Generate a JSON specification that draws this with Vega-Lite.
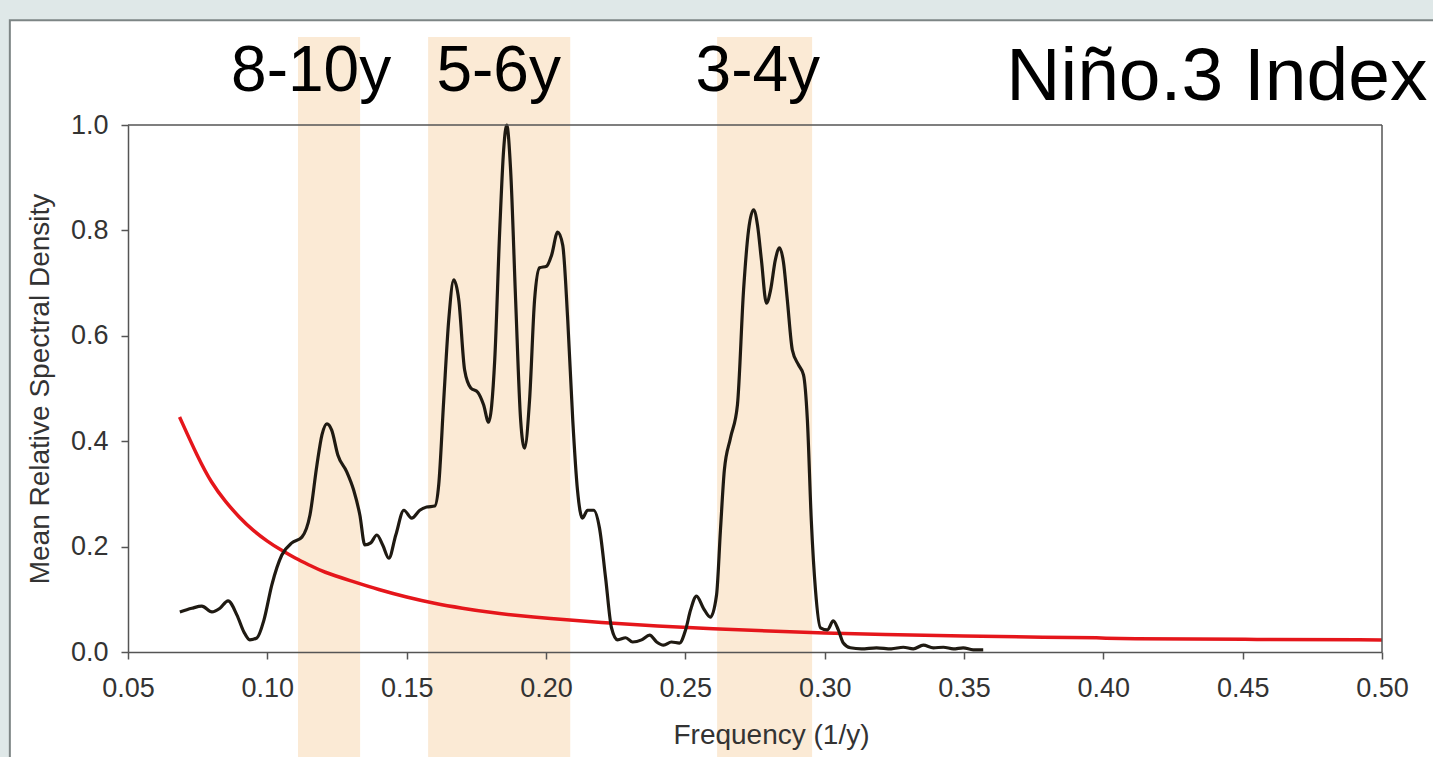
{
  "$schema": "https://vega.github.io/schema/vega-lite/v6.json",
  "autosize": "none",
  "width": 1254,
  "height": 527,
  "padding": {"left": 128, "top": 125, "right": 51, "bottom": 105},
  "background": "#dfe8e8",
  "config": {
    "view": {"stroke": null},
    "font": "Liberation Sans",
    "axis": {
      "domainColor": "#555555",
      "domainWidth": 1.5,
      "tickColor": "#555555",
      "tickWidth": 1.5,
      "tickSize": 7,
      "labelFont": "Liberation Sans",
      "labelFontSize": 27,
      "labelColor": "#333333",
      "labelFlush": false,
      "labelOverlap": false,
      "titleFont": "Liberation Sans",
      "titleFontSize": 28,
      "titleFontWeight": "normal",
      "titleColor": "#333333",
      "grid": false
    }
  },
  "datasets": {
    "panel": [{"x1": 0.0076, "x2": 0.54, "y1": -0.25, "y2": 1.199}],
    "bands": [
      {"f1": 0.111, "f2": 0.1333, "top": 1.167, "bottom": -0.25},
      {"f1": 0.1577, "f2": 0.2087, "top": 1.167, "bottom": -0.25},
      {"f1": 0.2614, "f2": 0.2955, "top": 1.167, "bottom": -0.25}
    ],
    "frame": [
      {"xa": 0.05, "xb": 0.5, "ya": 1, "yb": 1},
      {"xa": 0.5, "xb": 0.5, "ya": 0, "yb": 1}
    ],
    "labels": [
      {"f": 0.1157, "d": 1.0645, "t": "8-10y"},
      {"f": 0.183, "d": 1.0645, "t": "5-6y"},
      {"f": 0.276, "d": 1.0645, "t": "3-4y"}
    ],
    "title": [{"f": 0.5163, "d": 1.0474, "t": "Niño.3 Index"}],
    "red": [
      {"f": 0.0685, "d": 0.446}, {"f": 0.075, "d": 0.37}, {"f": 0.08, "d": 0.32},
      {"f": 0.085, "d": 0.285}, {"f": 0.09, "d": 0.255}, {"f": 0.095, "d": 0.23},
      {"f": 0.1, "d": 0.21}, {"f": 0.105, "d": 0.193}, {"f": 0.11, "d": 0.178},
      {"f": 0.115, "d": 0.165}, {"f": 0.12, "d": 0.152}, {"f": 0.13, "d": 0.135},
      {"f": 0.14, "d": 0.118}, {"f": 0.15, "d": 0.104}, {"f": 0.16, "d": 0.092},
      {"f": 0.17, "d": 0.083}, {"f": 0.18, "d": 0.075}, {"f": 0.19, "d": 0.069},
      {"f": 0.2, "d": 0.064}, {"f": 0.22, "d": 0.056}, {"f": 0.24, "d": 0.049},
      {"f": 0.26, "d": 0.044}, {"f": 0.28, "d": 0.04}, {"f": 0.3, "d": 0.036},
      {"f": 0.32, "d": 0.033}, {"f": 0.35, "d": 0.03}, {"f": 0.38, "d": 0.028},
      {"f": 0.4, "d": 0.027}, {"f": 0.405, "d": 0.025}, {"f": 0.45, "d": 0.024},
      {"f": 0.5, "d": 0.023}
    ],
    "curve": [
      {"f": 0.0686, "d": 0.076}, {"f": 0.0729, "d": 0.083}, {"f": 0.0765, "d": 0.087},
      {"f": 0.0801, "d": 0.076}, {"f": 0.083, "d": 0.083}, {"f": 0.0859, "d": 0.097},
      {"f": 0.0891, "d": 0.07}, {"f": 0.0916, "d": 0.038}, {"f": 0.0937, "d": 0.023},
      {"f": 0.0963, "d": 0.027}, {"f": 0.0988, "d": 0.061}, {"f": 0.1016, "d": 0.127},
      {"f": 0.1052, "d": 0.184}, {"f": 0.1088, "d": 0.207}, {"f": 0.1124, "d": 0.218},
      {"f": 0.1153, "d": 0.26}, {"f": 0.1178, "d": 0.355}, {"f": 0.1196, "d": 0.412},
      {"f": 0.1214, "d": 0.433}, {"f": 0.1231, "d": 0.421}, {"f": 0.1253, "d": 0.374},
      {"f": 0.1285, "d": 0.342}, {"f": 0.131, "d": 0.307}, {"f": 0.1332, "d": 0.26},
      {"f": 0.135, "d": 0.203}, {"f": 0.1371, "d": 0.207}, {"f": 0.1393, "d": 0.222},
      {"f": 0.1414, "d": 0.203}, {"f": 0.1436, "d": 0.178}, {"f": 0.1461, "d": 0.222},
      {"f": 0.149, "d": 0.269}, {"f": 0.1518, "d": 0.254}, {"f": 0.1547, "d": 0.269},
      {"f": 0.1572, "d": 0.275}, {"f": 0.1601, "d": 0.277}, {"f": 0.1615, "d": 0.317},
      {"f": 0.1633, "d": 0.478}, {"f": 0.1651, "d": 0.63}, {"f": 0.1669, "d": 0.706},
      {"f": 0.1687, "d": 0.668}, {"f": 0.1708, "d": 0.535}, {"f": 0.173, "d": 0.501},
      {"f": 0.1755, "d": 0.493}, {"f": 0.1776, "d": 0.469}, {"f": 0.1794, "d": 0.436},
      {"f": 0.1816, "d": 0.554}, {"f": 0.1834, "d": 0.801}, {"f": 0.1848, "d": 0.953},
      {"f": 0.1859, "d": 1.0}, {"f": 0.1873, "d": 0.915}, {"f": 0.1891, "d": 0.668},
      {"f": 0.1909, "d": 0.44}, {"f": 0.1923, "d": 0.387}, {"f": 0.1941, "d": 0.478},
      {"f": 0.1959, "d": 0.668}, {"f": 0.1977, "d": 0.729}, {"f": 0.2002, "d": 0.732},
      {"f": 0.202, "d": 0.753}, {"f": 0.2042, "d": 0.797}, {"f": 0.206, "d": 0.772},
      {"f": 0.2078, "d": 0.63}, {"f": 0.2096, "d": 0.44}, {"f": 0.2113, "d": 0.307},
      {"f": 0.2131, "d": 0.254}, {"f": 0.2149, "d": 0.269}, {"f": 0.2171, "d": 0.269},
      {"f": 0.2192, "d": 0.235}, {"f": 0.2214, "d": 0.14}, {"f": 0.2235, "d": 0.046},
      {"f": 0.2257, "d": 0.023}, {"f": 0.2286, "d": 0.027}, {"f": 0.2311, "d": 0.019},
      {"f": 0.2343, "d": 0.023}, {"f": 0.2372, "d": 0.032}, {"f": 0.2397, "d": 0.019},
      {"f": 0.2422, "d": 0.013}, {"f": 0.245, "d": 0.019}, {"f": 0.2479, "d": 0.017},
      {"f": 0.2501, "d": 0.042}, {"f": 0.2519, "d": 0.08}, {"f": 0.254, "d": 0.106},
      {"f": 0.2565, "d": 0.083}, {"f": 0.259, "d": 0.066}, {"f": 0.2612, "d": 0.108},
      {"f": 0.2626, "d": 0.231}, {"f": 0.264, "d": 0.345}, {"f": 0.2662, "d": 0.406},
      {"f": 0.2687, "d": 0.469}, {"f": 0.2709, "d": 0.687}, {"f": 0.2727, "d": 0.801},
      {"f": 0.2745, "d": 0.839}, {"f": 0.2759, "d": 0.81}, {"f": 0.2773, "d": 0.744},
      {"f": 0.2791, "d": 0.662}, {"f": 0.2806, "d": 0.687}, {"f": 0.2823, "d": 0.744},
      {"f": 0.2838, "d": 0.767}, {"f": 0.2852, "d": 0.74}, {"f": 0.2866, "d": 0.668},
      {"f": 0.2884, "d": 0.573}, {"f": 0.2906, "d": 0.545}, {"f": 0.2924, "d": 0.526},
      {"f": 0.2938, "d": 0.44}, {"f": 0.2952, "d": 0.25}, {"f": 0.2967, "d": 0.118},
      {"f": 0.2985, "d": 0.046}, {"f": 0.301, "d": 0.042}, {"f": 0.3031, "d": 0.059},
      {"f": 0.3049, "d": 0.042}, {"f": 0.3067, "d": 0.017}, {"f": 0.3092, "d": 0.008},
      {"f": 0.3132, "d": 0.006}, {"f": 0.3186, "d": 0.008}, {"f": 0.3239, "d": 0.006},
      {"f": 0.3282, "d": 0.009}, {"f": 0.3318, "d": 0.006}, {"f": 0.3354, "d": 0.013},
      {"f": 0.339, "d": 0.008}, {"f": 0.3426, "d": 0.009}, {"f": 0.3462, "d": 0.006},
      {"f": 0.3497, "d": 0.008}, {"f": 0.3533, "d": 0.004}, {"f": 0.3569, "d": 0.004}
    ]
  },
  "layer": [
    {
      "data": {"name": "panel"},
      "mark": {"type": "rect", "fill": "#ffffff", "stroke": "#7d8585", "strokeWidth": 2},
      "encoding": {
        "x": {"field": "x1", "type": "quantitative", "scale": {"domain": [0.05, 0.5], "nice": false, "zero": false},
          "axis": {"zindex": 1, "values": [0.05, 0.1, 0.15, 0.2, 0.25, 0.3, 0.35, 0.4, 0.45, 0.5], "format": ".2f", "title": "Frequency (1/y)", "labelPadding": 16, "titlePadding": 20, "titleX": 643}},
        "x2": {"field": "x2"},
        "y": {"field": "y1", "type": "quantitative", "scale": {"domain": [0, 1], "nice": false, "zero": false},
          "axis": {"zindex": 1, "values": [0, 0.2, 0.4, 0.6, 0.8, 1.0], "format": ".1f", "title": "Mean Relative Spectral Density", "labelPadding": 13, "titlePadding": 16}},
        "y2": {"field": "y2"}
      }
    },
    {
      "data": {"name": "bands"},
      "mark": {"type": "rect", "fill": "#fbead5"},
      "encoding": {
        "x": {"field": "f1", "type": "quantitative"},
        "x2": {"field": "f2"},
        "y": {"field": "top", "type": "quantitative"},
        "y2": {"field": "bottom"}
      }
    },
    {
      "data": {"name": "red"},
      "mark": {"type": "line", "color": "#e5161b", "strokeWidth": 3.5, "interpolate": "basis"},
      "encoding": {
        "x": {"field": "f", "type": "quantitative"},
        "y": {"field": "d", "type": "quantitative"}
      }
    },
    {
      "data": {"name": "curve"},
      "mark": {"type": "line", "color": "#1f1a12", "strokeWidth": 3.2, "interpolate": "monotone"},
      "encoding": {
        "x": {"field": "f", "type": "quantitative"},
        "y": {"field": "d", "type": "quantitative"}
      }
    },
    {
      "data": {"name": "frame"},
      "mark": {"type": "rule", "color": "#555555", "strokeWidth": 1.5},
      "encoding": {
        "x": {"field": "xa", "type": "quantitative"},
        "x2": {"field": "xb"},
        "y": {"field": "ya", "type": "quantitative"},
        "y2": {"field": "yb"}
      }
    },
    {
      "data": {"name": "labels"},
      "mark": {"type": "text", "fontSize": 64, "font": "Liberation Sans", "color": "#000000", "align": "center", "baseline": "alphabetic"},
      "encoding": {
        "x": {"field": "f", "type": "quantitative"},
        "y": {"field": "d", "type": "quantitative"},
        "text": {"field": "t"}
      }
    },
    {
      "data": {"name": "title"},
      "mark": {"type": "text", "fontSize": 75, "font": "Liberation Sans", "color": "#000000", "align": "right", "baseline": "alphabetic"},
      "encoding": {
        "x": {"field": "f", "type": "quantitative"},
        "y": {"field": "d", "type": "quantitative"},
        "text": {"field": "t"}
      }
    }
  ]
}
